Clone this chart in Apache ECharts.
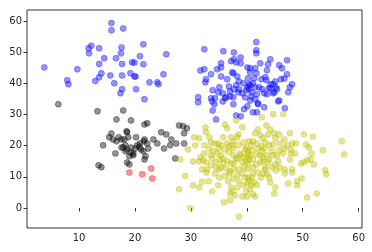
<!DOCTYPE html>
<html><head><meta charset="utf-8">
<script src="https://cdn.jsdelivr.net/npm/echarts@6/dist/echarts.min.js"></script>
<style>html,body{margin:0;padding:0;background:#fff}#c{width:372px;height:252px}</style>
</head><body><div id="c"></div>
<script>
var xTicks = [10, 20, 30, 40, 50, 60];
var yTicks = [0, 10, 20, 30, 40, 50, 60];
var blueLeft = [[3.8,45.1],[7.9,41],[8.1,39.7],[9.7,44.5],[11.7,51.2],[12.2,52],[11.8,49.6],[13.6,51.2],[13.6,46.2],[14.5,48],[14.0,43.2],[13.6,41.9],[12.9,40.7],[15.8,59.3],[15.8,57],[17.9,57.6],[17.6,51.5],[17.5,49.6],[16.6,48],[17.7,46.2],[15.6,42.5],[16.3,40],[17.7,42.5],[17.7,38.1],[17.4,36.8],[19.5,46.7],[19.9,46.7],[19.2,43.2],[19.9,42.2],[20.1,42.2],[20.2,38.1],[20.9,48.7],[21.5,52.5],[21.5,46.1],[21.7,34.9],[22.6,40.3],[24.0,40.3],[24.2,39.7],[25.1,42.9],[25.6,49.3]];
var blueRight = [[32.4,50.9],[31.7,44.1],[32.4,44.5],[31.3,35.5],[31.3,33.9],[32.6,40.3],[32.7,41.3],[33.6,42.9],[34.7,44.5],[35.4,46.4],[35.4,45.1],[35.8,50.3],[37.7,49.9],[37.7,47.7],[38.1,46.7],[38.9,48.3],[38.9,46.4],[40.1,45.1],[40.6,44.8],[41.7,53.2],[41.7,50.6],[41.7,49.6],[40.6,43.5],[41.5,44.8],[41.7,43.2],[42.4,46.4],[43.8,46.1],[44.2,47.7],[43.6,44.2],[45.8,45.8],[46.3,44.8],[47.2,47.4],[47.2,42.9],[48.1,39.7],[47.7,38.7],[47.4,37.1],[46.8,32],[45.8,34.5],[45.6,34.2],[46.1,41.3],[45.1,40.6],[44.7,39.7],[45.2,38.7],[44.7,36.8],[44.2,38.4],[43.3,41.9],[43.5,41],[42.6,41.3],[42.2,38.7],[41.5,38.7],[41.1,40],[40.4,39.7],[40.1,38.7],[40.4,38.1],[40.9,37.1],[41.8,36.5],[43.1,36.8],[43.6,36.5],[43.9,38.4],[43.1,32.3],[42.0,33.6],[41.5,34.9],[40.6,34.5],[40.1,32.6],[39.5,31.7],[41.1,30.7],[41.8,30.7],[38.9,29.4],[38.1,29.7],[37.6,33.3],[37.0,35.8],[36.1,35.2],[36.3,35.5],[35.7,34.2],[35.7,36.8],[35.1,38.7],[35.4,42.2],[36.5,41.3],[37.4,43.5],[37.6,43.2],[38.3,42.2],[38.6,40.6],[39.4,40],[38.1,39.4],[37.7,38.1],[38.6,38.1],[38.5,37.1],[39.2,36.8],[39.7,35.5],[37.6,35.5],[34.9,37.1],[33.9,37.8],[33.6,35.2],[33.8,34.2],[33.9,31.3],[34.5,28.4],[34.2,33.3],[34.3,35.2],[36.8,39],[37.0,37.4],[42.0,33.3],[39.9,37.8],[40.8,35.8],[37.2,47.1],[40.2,41.6],[40.6,39.4],[41.3,41.6],[42.7,38.1],[44.3,39.7],[45.4,38.1],[44.9,37.1],[46.7,41.5]];
var blackPts = [[6.3,33.3],[13.3,31],[17.9,31.3],[16.7,28.4],[19.3,28.1],[21.7,26.8],[22.2,27.2],[18.5,24.6],[18.6,24.3],[15.8,23.9],[15.4,22.7],[14.3,20.1],[13.5,13.7],[14.0,13.1],[16.5,17.5],[18.6,14.6],[19.0,14],[17.1,22.7],[17.6,22],[16.7,21.4],[16.1,22],[18.1,22],[18.8,22.7],[20.2,22.7],[21.7,22],[23.3,22],[24.0,20.7],[24.7,24.3],[25.6,23.6],[26.5,22],[26.3,20.1],[25.2,19.1],[27.2,15.9],[27.9,26.5],[28.6,26.2],[29.3,25.6],[28.8,24],[28.8,20.7],[27.4,20.7],[21.7,15.6],[21.9,16.6],[17.9,19.4],[18.3,20.1],[18.6,18.8],[19.3,19.4],[20.1,19.1],[19.7,17.5],[20.4,20.1],[21.1,18.8],[21.5,18.2],[22.4,19.1],[20.9,20.7],[22.2,20.7],[19.7,16.9],[19.3,17.8],[17.6,19.4],[18.3,18.2],[19.0,16.6],[21.6,21.4],[20.8,19.6]];
var redPts = [[19.0,11.4],[21.3,10.8],[22.9,12.7],[23.1,9.5]];
var yellowPts = [[28.1,15.6],[29.5,18.8],[29,10.3],[27.9,6],[29.9,-0.1],[30.4,14.9],[31.5,15],[31.7,16.3],[30.4,7.3],[31.5,6.6],[32.0,8.4],[30.8,20.1],[30.6,22.7],[31.5,22.4],[32.4,20.1],[32.4,17.5],[32.6,25.8],[32.7,24.3],[33.3,22.7],[33.6,21.1],[33.6,16.9],[33.8,15.9],[34.0,18.2],[32.9,12.4],[32.8,11.4],[33.2,8.6],[33.8,5.3],[34.9,7.3],[35.1,9.8],[34.5,13],[35.1,12.4],[34.7,17.5],[35.4,16.9],[34.3,20.7],[34.9,20.7],[35.8,22.7],[36.1,26.8],[36.5,25.6],[37.2,22.7],[38.3,22.7],[38.5,23.6],[39.2,25.9],[38.1,28.1],[37.6,21.4],[36.8,19.8],[36.1,18.8],[35.8,15.9],[36.5,15],[37.2,14.3],[37.6,16.9],[38.3,15.9],[38.9,16.9],[39.7,18.8],[40.2,17.5],[40.1,16.3],[40.6,16.9],[41.1,15.6],[40.2,14.3],[39.5,13],[38.6,12.4],[37.7,12.4],[36.9,11.1],[36.1,10.3],[36.7,8.6],[37.2,6.6],[37.4,5.3],[37.0,4.7],[35.9,1.8],[37.0,2.5],[37.9,4.1],[39.2,3.7],[39.9,5.3],[40.6,6],[41.1,4.4],[41.5,3.7],[41.8,7.3],[41.3,8.2],[40.4,8.9],[39.7,9.8],[38.6,8.6],[38.3,6.6],[38.6,-2.8],[41.1,11.1],[42.0,11.4],[42.9,11.1],[43.6,10.8],[44.2,8.2],[45.1,6.6],[44.9,4.7],[44.0,9.8],[43.3,13],[42.9,15],[44.0,15.6],[44.7,16.9],[45.4,16.9],[45.6,15],[46.5,17.5],[46.7,19.1],[47.2,20.1],[47.9,18.8],[48.1,20.7],[48.8,20.7],[47.7,24],[46.7,22],[44.7,20.4],[44.0,20.1],[43.3,21.1],[42.9,22.4],[43.8,23.6],[44.2,25.2],[43.5,26.5],[44.7,30.1],[46.5,30.1],[42.7,29.1],[42.0,25.2],[41.5,24],[41.1,21.4],[42.0,19.1],[42.7,18.2],[43.6,16.9],[42.4,14.7],[41.1,13],[40.1,12.4],[47.7,15.6],[48.1,12.4],[48.1,11.4],[46.8,11.1],[46.8,12.4],[47.4,7.9],[49,8.6],[49,7.3],[49.8,9.5],[49.7,14.3],[50.2,14.7],[50.8,15.3],[50.6,20.4],[51.1,19.4],[50.2,23.6],[51.8,22.9],[51.6,17.5],[51.4,15.6],[52.0,14],[50.8,3.4],[52.5,4.7],[53.6,18.5],[54,12.1],[54.2,10.8],[57.0,21.4],[57.4,17.2],[48.6,17.5],[47.9,17.5],[45.8,18.5],[45.9,20.7],[45.1,22.4],[45.8,23.6],[44.9,24],[42.4,23.3],[40.4,21.4],[39.4,21.1],[38.5,20.1],[37.6,19.1],[36.8,17.9],[35.2,15.6],[34.3,11.1],[35.4,13],[36.3,12.7],[37.7,14.3],[39.2,14.7],[39.9,15],[40.2,18.2],[40.9,18.5],[41.7,17.2],[42.4,16.9],[42.9,16.3],[43.8,14.7],[44.5,13],[45.2,12.1],[45.9,13],[45.1,14],[41.7,14],[40.9,9.8],[40.1,7.9],[39.4,7.3],[38.3,10.5],[37.6,9.5],[37.0,11.8],[35.8,14.3],[34.5,14.7],[33.6,13.7],[32.7,14.7],[32.0,12.4],[32.2,15.3],[33.3,19.1],[35.0,19.1],[35.4,20.1],[36.5,20.7],[37.4,20.1],[39.9,19.4],[40.8,20.1],[41.8,20.7],[42.6,19.8],[43.1,19.1],[44.5,18.2],[43.3,12.4],[42.5,9.8],[40.8,7.3],[40.1,3.7],[40.2,9.8],[39.2,11.1],[38.1,15.9],[38.8,17.5],[39.4,16.3],[40.4,15.6]];

function ser(data, color) {
  return {
    type: 'scatter', data: data, symbolSize: 6,
    itemStyle: { color: color, opacity: 0.42, borderColor: color, borderWidth: 0.8 },
    emphasis: { disabled: true }, silent: true, animation: false
  };
}
var chart = echarts.init(document.getElementById('c'), null, { renderer: 'canvas' });
var axisText = { color: '#262626', fontSize: 10, fontFamily: 'DejaVu Sans' };
chart.setOption({
  animation: false,
  grid: { left: 27, right: 10, top: 10, bottom: 24, show: true, borderColor: '#000', borderWidth: 0.8, backgroundColor: 'transparent' },
  xAxis: {
    type: 'value', min: 0.7, max: 60.6,
    splitLine: { show: false },
    axisLine: { show: false },
    axisTick: { show: true, inside: false, length: 3.5, lineStyle: { color: '#000', width: 0.8 }, customValues: xTicks },
    axisLabel: Object.assign({ margin: 5, customValues: xTicks }, axisText)
  },
  yAxis: {
    type: 'value', min: -6.4, max: 63.5,
    splitLine: { show: false },
    axisLine: { show: false },
    axisTick: { show: true, inside: false, length: 3.5, lineStyle: { color: '#000', width: 0.8 }, customValues: yTicks },
    axisLabel: Object.assign({ margin: 5, customValues: yTicks }, axisText)
  },
  series: [
    ser(blueLeft, '#0000ff'),
    ser(blueRight, '#0000ff'),
    ser(blackPts, '#000000'),
    ser(redPts, '#ff0000'),
    ser(yellowPts, '#bfbf00')
  ]
});
</script></body></html>
